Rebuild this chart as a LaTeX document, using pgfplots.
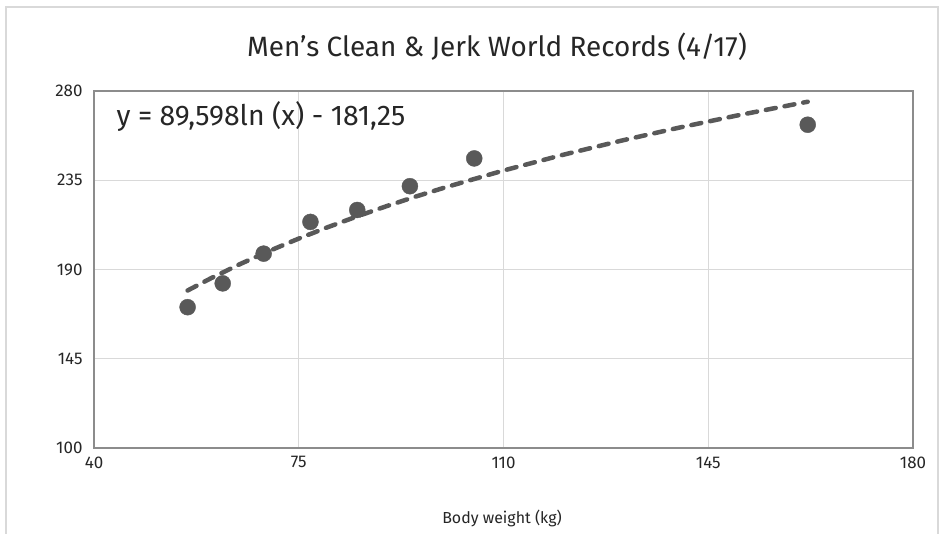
\documentclass[border=0pt]{standalone}
\usepackage{fontspec}
\setmainfont{Fira Sans}
\usepackage{pgfplots}
\pgfplotsset{compat=1.18}
\definecolor{markgray}{HTML}{595959}
\definecolor{gridgray}{HTML}{D9D9D9}
\definecolor{framegray}{HTML}{D9D9D9}
\definecolor{axisgray}{HTML}{8C8C8C}
\definecolor{textgray}{HTML}{262626}

% World records, clean & jerk, by body weight class
\pgfplotstableread{
w   kg
56  171
62  183
69  198
77  214
85  220
94  232
105 246
162 263
}\records

% Logarithmic trend  y = 89.598 ln(x) - 181.25, tabulated
\pgfplotstableread{
w   kg
56  179.41
60  185.60
65  192.77
70  199.41
75  205.59
80  211.37
85  216.80
90  221.92
95  226.77
100 231.36
110 239.90
120 247.70
130 254.87
140 261.51
150 267.69
162 274.59
}\trend

\begin{document}
\begin{tikzpicture}
\useasboundingbox (0bp,0bp) rectangle (941bp,534bp);
\fill[white] (0bp,0bp) rectangle (941bp,534bp);
\draw[framegray, line width=1.5bp] (6bp,0bp) -- (6bp,527bp) -- (938bp,527bp) -- (938bp,0bp);

\node[font=\fontsize{28}{33}\selectfont, text=textgray, anchor=base]
  at (497bp,477bp) {Men’s Clean \& Jerk World Records (4/17)};

\begin{axis}[
  at={(94bp,86bp)}, anchor=south west,
  scale only axis, width=819bp, height=357bp,
  xmin=40, xmax=180, ymin=100, ymax=280,
  xtick={40,75,110,145,180},
  ytick={100,145,190,235,280},
  grid=major,
  major grid style={gridgray, line width=1bp},
  axis line style={axisgray, line width=1.2bp},
  tick style={draw=none},
  ticklabel style={font=\fontsize{17}{20}\selectfont, text=textgray},
  /pgf/number format/assume math mode=true,
  xticklabel style={yshift=-5bp},
  yticklabel style={xshift=-8bp},
  clip=false,
]
\addplot[markgray, line width=4.5bp, line cap=round,
  dash pattern=on 10bp off 9bp, no marks] table[x=w, y=kg] {\trend};
\addplot[only marks, mark=*, mark size=8bp,
  mark options={draw=markgray, fill=markgray}] table[x=w, y=kg] {\records};
\end{axis}

\node[font=\fontsize{28.5}{33}\selectfont, text=textgray, anchor=base west]
  at (113bp,408bp) {y = 89,598ln (x) - 181,25};
\node[font=\fontsize{16}{19}\selectfont, text=textgray, anchor=base]
  at (502bp,11bp) {Body weight (kg)};
\end{tikzpicture}
\end{document}
